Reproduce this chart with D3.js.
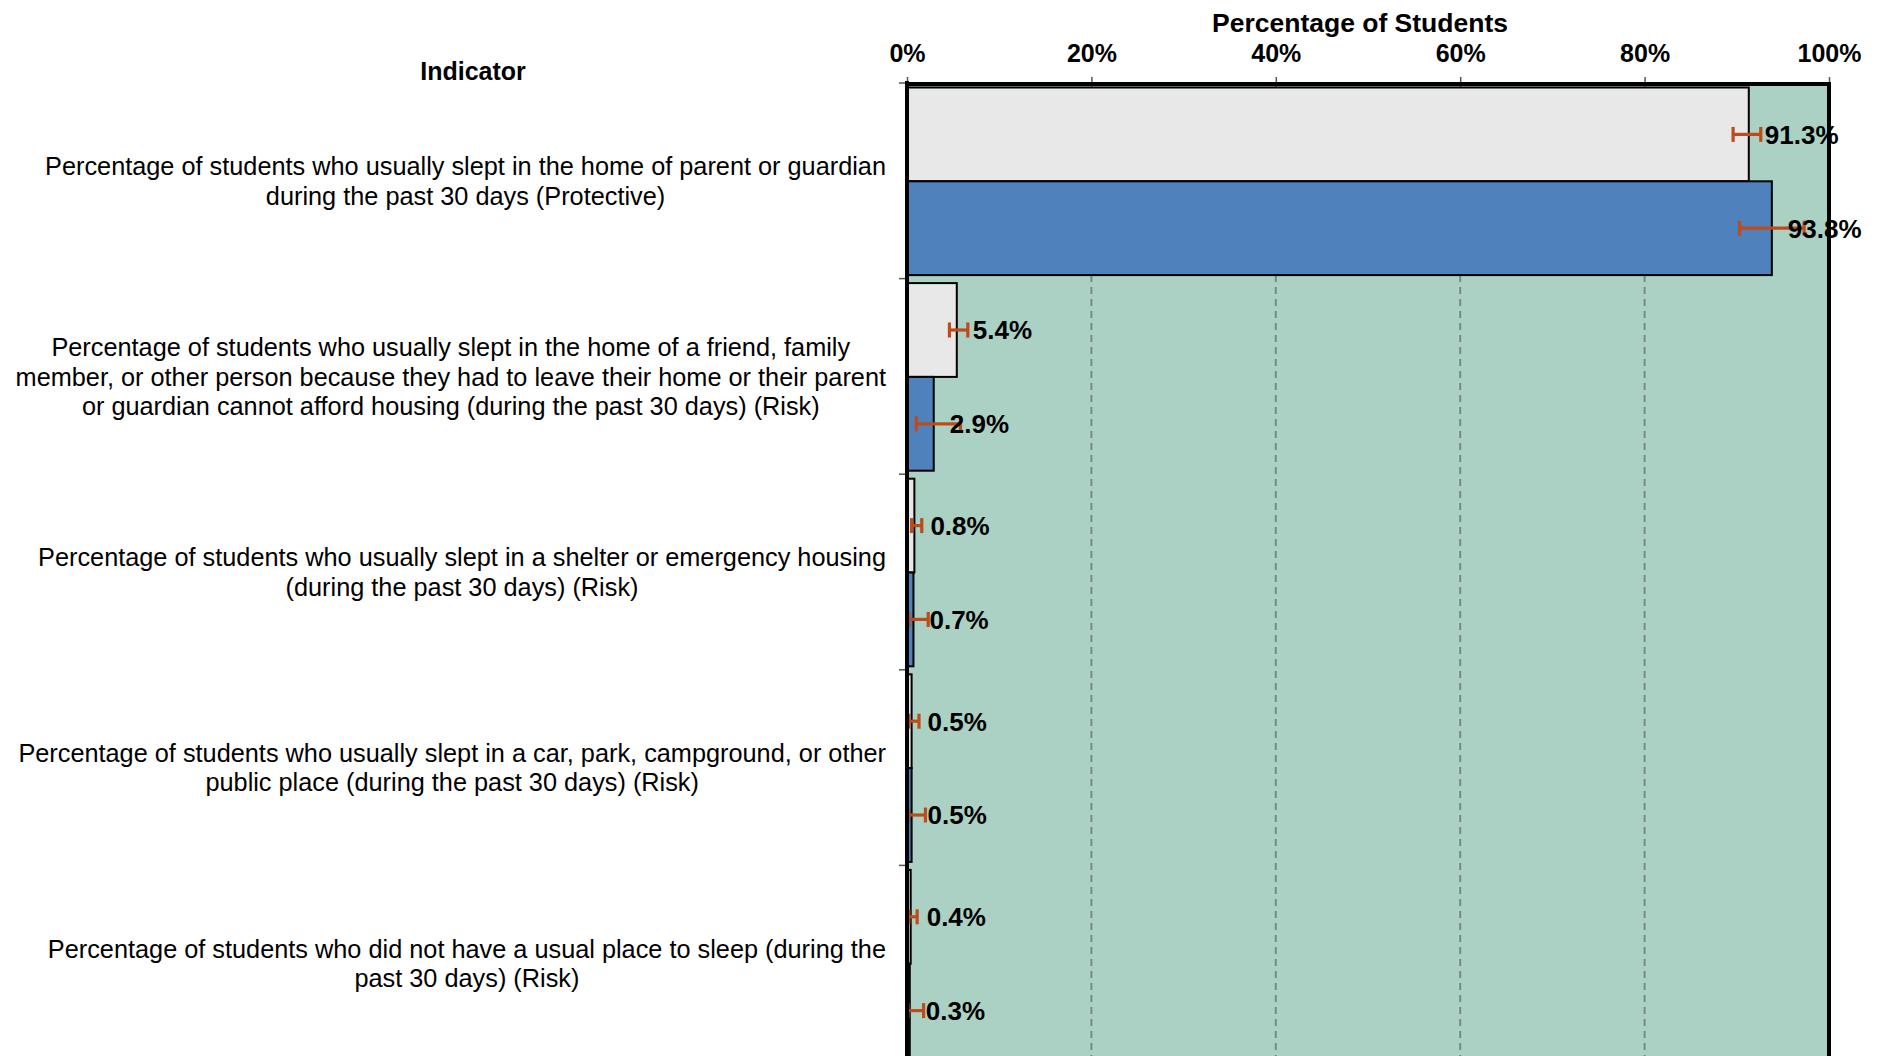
<!DOCTYPE html>
<html>
<head>
<meta charset="utf-8">
<script src="https://cdn.jsdelivr.net/npm/d3@7"></script>
<style>
   body { margin: 0; background: #ffffff; }
   text { font-family: "Liberation Sans", Arial, sans-serif; fill: #000; }
</style>
</head>
<body>
<div class="visHolder"></div>
<script>
// indicators, one line per entry as in the original chart
const categories = [
   ["Percentage of students who usually slept in the home of parent or guardian",
    "during the past 30 days (Protective)"],
   ["Percentage of students who usually slept in the home of a friend, family",
    "member, or other person because they had to leave their home or their parent",
    "or guardian cannot afford housing (during the past 30 days) (Risk)"],
   ["Percentage of students who usually slept in a shelter or emergency housing",
    "(during the past 30 days) (Risk)"],
   ["Percentage of students who usually slept in a car, park, campground, or other",
    "public place (during the past 30 days) (Risk)"],
   ["Percentage of students who did not have a usual place to sleep (during the",
    "past 30 days) (Risk)"]
];
const seriesNames = ["first", "second"];

const grayValues = [91.3, 5.4, 0.8, 0.5, 0.4];
const grayLow = [89.6, 4.6, 0.5, 0.2, 0.2];
const grayHigh = [92.6, 6.6, 1.6, 1.3, 1.1];

const blueValues = [93.8, 2.9, 0.7, 0.5, 0.3];
const blueLow = [90.3, 1.0, 0.2, 0.1, 0.1];
const blueHigh = [97.3, 5.8, 2.3, 2.0, 1.8];

const xTicks = [0, 20, 40, 60, 80, 100];

const fullWidth = 1881;
const fullHeight = 1056;
const plotLeft = 907, plotRight = 1829, plotTop = 83, plotBottom = 1061;

const colors = { first: "#e8e8e8", second: "#4f81bd" };

const rows = [];
categories.forEach((c, i) => {
   rows.push({ cat: i, s: "first", v: grayValues[i], lo: grayLow[i], hi: grayHigh[i] });
   rows.push({ cat: i, s: "second", v: blueValues[i], lo: blueLow[i], hi: blueHigh[i] });
});

const svg = d3.select(".visHolder")
   .append("svg")
   .attr("width", fullWidth)
   .attr("height", fullHeight)
   .style("display", "block");

const xScale = d3.scaleLinear().domain([0, 100]).range([plotLeft, plotRight]);
const yScale = d3.scaleBand().domain(d3.range(categories.length)).range([plotTop, plotBottom]);
const ySub = d3.scaleBand().domain(seriesNames).range([4.5, yScale.bandwidth() - 3.5]);

// plot background
svg.append("rect")
   .attr("x", plotLeft).attr("y", plotTop)
   .attr("width", plotRight - plotLeft).attr("height", plotBottom - plotTop)
   .attr("fill", "#aad1c4");

// dashed gridlines
svg.append("g")
   .selectAll("line")
   .data(xTicks.slice(1, -1))
   .enter()
   .append("line")
   .attr("x1", d => xScale(d)).attr("x2", d => xScale(d))
   .attr("y1", plotTop).attr("y2", plotBottom)
   .attr("stroke", "#748b82")
   .attr("stroke-width", 2)
   .attr("stroke-dasharray", "7,5");

// bars
svg.append("g")
   .selectAll("rect")
   .data(rows)
   .enter()
   .append("rect")
   .attr("x", xScale(0))
   .attr("y", d => yScale(d.cat) + ySub(d.s))
   .attr("width", d => xScale(d.v) - xScale(0))
   .attr("height", ySub.bandwidth())
   .attr("fill", d => colors[d.s])
   .attr("stroke", "#000")
   .attr("stroke-width", 2);

// error bars
const err = svg.append("g")
   .attr("stroke", "#be4b1a")
   .attr("stroke-width", 3.2);
rows.forEach(d => {
   const cy = yScale(d.cat) + ySub(d.s) + ySub.bandwidth() / 2;
   err.append("line")
      .attr("x1", xScale(d.lo)).attr("x2", xScale(d.hi))
      .attr("y1", cy).attr("y2", cy);
   [d.lo, d.hi].forEach(v => {
      err.append("line")
         .attr("x1", xScale(v)).attr("x2", xScale(v))
         .attr("y1", cy - 7.5).attr("y2", cy + 7.5);
   });
});

// value labels
svg.append("g")
   .selectAll("text")
   .data(rows)
   .enter()
   .append("text")
   .attr("x", d => xScale(d.v) + 16)
   .attr("y", d => yScale(d.cat) + ySub(d.s) + ySub.bandwidth() / 2)
   .attr("dy", "0.36em")
   .style("font-size", "26px")
   .style("font-weight", "bold")
   .text(d => d.v.toFixed(1) + "%");

// top axis
const xAxis = d3.axisTop(xScale)
   .tickValues(xTicks)
   .tickSize(6)
   .tickPadding(15)
   .tickFormat(d => d + "%");
const gx = svg.append("g")
   .attr("id", "x-axis")
   .attr("transform", "translate(0," + plotTop + ")")
   .call(xAxis);
gx.select(".domain").remove();
gx.selectAll(".tick line").attr("stroke", "#555").attr("stroke-width", 1.5);
gx.selectAll(".tick text")
   .style("font-size", "25px")
   .style("font-weight", "bold")
   .style("font-family", "'Liberation Sans', Arial, sans-serif");

// left axis ticks at category boundaries
const yAxis = d3.axisLeft(yScale).tickSize(0).tickFormat("");
const gy = svg.append("g")
   .attr("id", "y-axis")
   .attr("transform", "translate(" + plotLeft + ",0)")
   .call(yAxis);
gy.select(".domain").remove();
gy.selectAll(".bound")
   .data(d3.range(categories.length))
   .enter()
   .append("line")
   .attr("class", "bound")
   .attr("x1", -8).attr("x2", 0)
   .attr("y1", d => yScale(d)).attr("y2", d => yScale(d))
   .attr("stroke", "#555")
   .attr("stroke-width", 1.5);

// frame: left, top, right
svg.append("line")
   .attr("x1", plotLeft).attr("x2", plotLeft).attr("y1", plotTop - 2).attr("y2", plotBottom)
   .attr("stroke", "#000").attr("stroke-width", 4);
svg.append("line")
   .attr("x1", plotLeft - 2).attr("x2", plotRight + 2).attr("y1", plotTop + 1).attr("y2", plotTop + 1)
   .attr("stroke", "#000").attr("stroke-width", 4);
svg.append("line")
   .attr("x1", plotRight).attr("x2", plotRight).attr("y1", plotTop - 1).attr("y2", plotBottom)
   .attr("stroke", "#000").attr("stroke-width", 4);

// category labels: lines centred in a block that is right-aligned to the axis
const labelRight = 886;
const lineHeight = 29.4;
categories.forEach((lines, i) => {
   const g = svg.append("g");
   const cy = yScale(i) + yScale.bandwidth() / 2;
   const texts = lines.map((ln, j) => g.append("text")
      .attr("y", cy + (j - (lines.length - 1) / 2) * lineHeight)
      .attr("dy", "0.36em")
      .attr("text-anchor", "middle")
      .style("font-size", "25.3px")
      .text(ln));
   const maxW = d3.max(texts, t => t.node().getComputedTextLength());
   texts.forEach(t => t.attr("x", labelRight - maxW / 2));
});

// titles
svg.append("text")
   .attr("x", 1360).attr("y", 32)
   .attr("text-anchor", "middle")
   .style("font-size", "26.5px")
   .style("font-weight", "bold")
   .text("Percentage of Students");
svg.append("text")
   .attr("x", 473).attr("y", 80)
   .attr("text-anchor", "middle")
   .style("font-size", "25px")
   .style("font-weight", "bold")
   .text("Indicator");
</script>
</body>
</html>
